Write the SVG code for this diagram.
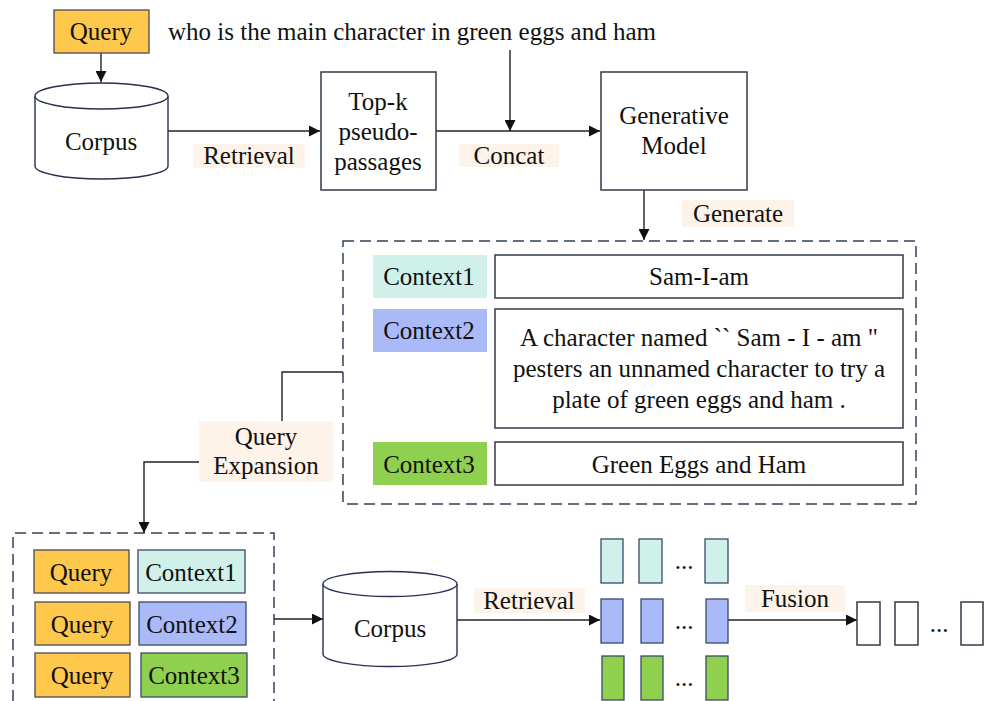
<svg xmlns="http://www.w3.org/2000/svg" width="995" height="701" viewBox="0 0 995 701">
  <defs>
    <marker id="arr" viewBox="0 0 10 10" refX="10" refY="5" markerWidth="11" markerHeight="11" markerUnits="userSpaceOnUse" orient="auto">
      <path d="M0,0 L10,5 L0,10 z" fill="#111"/>
    </marker>
    <style>
      text { font-family: "Liberation Serif", "Times New Roman", serif; font-size: 25px; fill: #111; }
      .c { text-anchor: middle; }
      .box { fill: #fff; stroke: #333a4a; stroke-width: 1.5; }
      .q { fill: #fdc84c; stroke: #4a4a55; stroke-width: 1.3; }
      .c1 { fill: #d0f0ea; stroke: #3a4a6a; stroke-width: 1.3; }
      .c2 { fill: #aab9f8; stroke: #3a4a6a; stroke-width: 1.3; }
      .c3 { fill: #8fd04f; stroke: #3a4a6a; stroke-width: 1.3; }
      .lbl { fill: #fdf3e8; }
      .dash { fill: none; stroke: #33405a; stroke-width: 1.5; stroke-dasharray: 11 6; }
      .edge { fill: none; stroke: #222; stroke-width: 1.4; }
      .cyl { fill: #fff; stroke: #2a3050; stroke-width: 1.4; }
    </style>
  </defs>

  <!-- connectors -->
  <g id="connectors">
    <line class="edge" x1="101" y1="53" x2="101" y2="82" marker-end="url(#arr)"/>
    <line class="edge" x1="168" y1="131" x2="320" y2="131" marker-end="url(#arr)"/>
    <line class="edge" x1="436" y1="131" x2="600" y2="131" marker-end="url(#arr)"/>
    <line class="edge" x1="510" y1="50" x2="510" y2="131" marker-end="url(#arr)"/>
    <line class="edge" x1="644" y1="190" x2="644" y2="240" marker-end="url(#arr)"/>
    <polyline class="edge" points="343,372 282,372 282,421"/>
    <polyline class="edge" points="199,462 144,462 144,533" marker-end="url(#arr)"/>
    <line class="edge" x1="274" y1="619" x2="323" y2="619" marker-end="url(#arr)"/>
    <line class="edge" x1="457" y1="620" x2="600" y2="620" marker-end="url(#arr)"/>
    <line class="edge" x1="728" y1="620" x2="857" y2="620" marker-end="url(#arr)"/>
  </g>

  <!-- edge labels -->
  <g id="labels">
    <rect class="lbl" x="193" y="144" width="112" height="24"/>
    <text class="c" x="249" y="164">Retrieval</text>
    <rect class="lbl" x="459" y="144" width="100" height="23"/>
    <text class="c" x="509" y="164">Concat</text>
    <rect class="lbl" x="682" y="200" width="112" height="27"/>
    <text class="c" x="738" y="222">Generate</text>
    <rect class="lbl" x="474" y="588" width="111" height="25"/>
    <text class="c" x="529" y="609">Retrieval</text>
    <rect class="lbl" x="745" y="585" width="100" height="27"/>
    <text class="c" x="795" y="607">Fusion</text>
  </g>

  <!-- query -->
  <g id="query">
    <rect class="q" x="54" y="10" width="95" height="43"/>
    <text class="c" x="101" y="40">Query</text>
    <text x="168" y="40">who is the main character in green eggs and ham</text>
  </g>

  <!-- corpus (top) -->
  <g id="corpus1">
    <path class="cyl" d="M35,96 L35,166 A66.5,13 0 0 0 168,166 L168,96"/>
    <ellipse class="cyl" cx="101.5" cy="96" rx="66.5" ry="13"/>
    <text class="c" x="101" y="150">Corpus</text>
  </g>

  <!-- top-k pseudo-passages -->
  <g id="topk">
    <rect class="box" x="321" y="72" width="115" height="118"/>
    <text class="c" x="378" y="110">Top-k</text>
    <text class="c" x="378" y="140">pseudo-</text>
    <text class="c" x="378" y="170">passages</text>
  </g>

  <!-- generative model -->
  <g id="generative">
    <rect class="box" x="601" y="72" width="146" height="118"/>
    <text class="c" x="674" y="124">Generative</text>
    <text class="c" x="674" y="154">Model</text>
  </g>

  <!-- generated contexts -->
  <g id="contexts">
    <rect class="dash" x="343" y="241" width="573" height="263"/>
    <rect x="373" y="255" width="114" height="43" fill="#d0f0ea"/>
    <text class="c" x="429" y="285">Context1</text>
    <rect class="box" x="495" y="255" width="408" height="43"/>
    <text class="c" x="699" y="285">Sam-I-am</text>

    <rect x="373" y="309" width="114" height="43" fill="#aab9f8"/>
    <text class="c" x="429" y="339">Context2</text>
    <rect class="box" x="495" y="309" width="408" height="119"/>
    <text class="c" x="699" y="346">A character named `` Sam - I - am "</text>
    <text class="c" x="699" y="377">pesters an unnamed character to try a</text>
    <text class="c" x="699" y="408">plate of green eggs and ham .</text>

    <rect x="373" y="442" width="114" height="43" fill="#8fd04f"/>
    <text class="c" x="429" y="473">Context3</text>
    <rect class="box" x="495" y="442" width="408" height="43"/>
    <text class="c" x="699" y="473">Green Eggs and Ham</text>
  </g>

  <!-- query expansion -->
  <g id="expansion">
    <rect class="lbl" x="199" y="421" width="134" height="61"/>
    <text class="c" x="266" y="445">Query</text>
    <text class="c" x="266" y="474">Expansion</text>
  </g>

  <!-- expanded queries -->
  <g id="expanded">
    <path class="dash" d="M13,701 L13,533 L274,533 L274,701"/>
    <rect class="q" x="34" y="550" width="95" height="43"/>
    <text class="c" x="81" y="581">Query</text>
    <rect class="c1" x="138" y="550" width="107" height="43"/>
    <text class="c" x="191" y="581">Context1</text>

    <rect class="q" x="35" y="602" width="95" height="43"/>
    <text class="c" x="82" y="633">Query</text>
    <rect class="c2" x="139" y="602" width="107" height="43"/>
    <text class="c" x="192" y="633">Context2</text>

    <rect class="q" x="35" y="653" width="95" height="44"/>
    <text class="c" x="82" y="684">Query</text>
    <rect class="c3" x="141" y="653" width="106" height="44"/>
    <text class="c" x="194" y="684">Context3</text>
  </g>

  <!-- corpus (bottom) -->
  <g id="corpus2">
    <path class="cyl" d="M323,584 L323,654 A67,12.5 0 0 0 457,654 L457,584"/>
    <ellipse class="cyl" cx="390" cy="584" rx="67" ry="12.5"/>
    <text class="c" x="390" y="637">Corpus</text>
  </g>

  <!-- retrieved passages per context -->
  <g id="results">
    <rect class="c1" x="601" y="539" width="22" height="44"/>
    <rect class="c1" x="639" y="539" width="23" height="44"/>
    <text class="c" x="684" y="569">...</text>
    <rect class="c1" x="705" y="539" width="23" height="44"/>

    <rect class="c2" x="601" y="599" width="22" height="44"/>
    <rect class="c2" x="641" y="599" width="22" height="44"/>
    <text class="c" x="684" y="629">...</text>
    <rect class="c2" x="706" y="599" width="22" height="44"/>

    <rect class="c3" x="602" y="656" width="22" height="44"/>
    <rect class="c3" x="641" y="656" width="22" height="44"/>
    <text class="c" x="684" y="686">...</text>
    <rect class="c3" x="706" y="656" width="22" height="44"/>
  </g>

  <!-- fused ranking -->
  <g id="fused">
    <rect class="box" x="857" y="602" width="23" height="43"/>
    <rect class="box" x="895" y="602" width="23" height="43"/>
    <text class="c" x="939" y="632">...</text>
    <rect class="box" x="961" y="602" width="22" height="43"/>
  </g>
</svg>
